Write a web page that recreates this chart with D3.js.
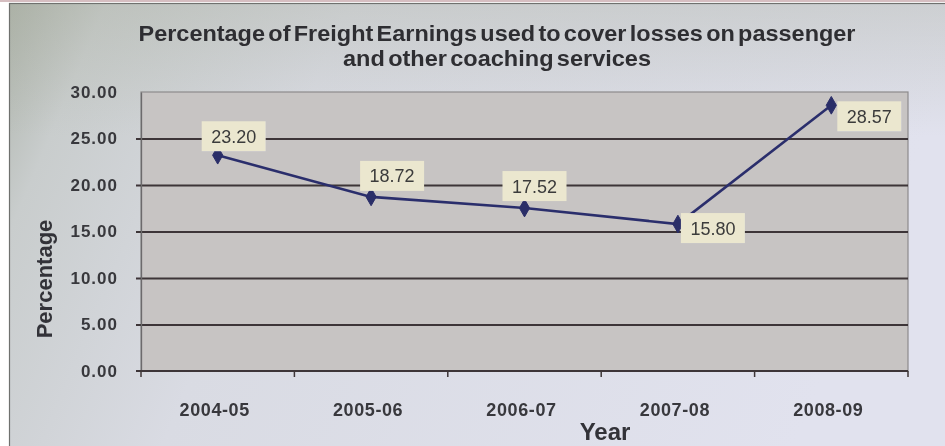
<!DOCTYPE html>
<html>
<head>
<meta charset="utf-8">
<script src="https://cdn.jsdelivr.net/npm/d3@7"></script>
<style>
  html, body { margin: 0; padding: 0; background: #ffffff; }
  svg { display: block; }
</style>
</head>
<body>
<svg id="chart" width="945" height="446"></svg>
<script>
// Share of freight earnings used to cover passenger / coaching losses
const years = ["2004-05", "2005-06", "2006-07", "2007-08", "2008-09"];
const percentages = [23.20, 18.72, 17.52, 15.80, 28.57];
const yTickValues = [0, 5, 10, 15, 20, 25, 30];
const titleLines = [
  "Percentage of Freight Earnings used to cover losses on passenger",
  "and other coaching services"
];
// where each value box sits relative to its point (dx, dy of box centre)
const labelOffsets = [[16, -19], [21, -21], [10, -22], [35, 4], [38, 11]];

const svg = d3.select("#chart");
const W = 945, H = 446;
const plot = { left: 141, right: 908, top: 92, bottom: 371 };

const defs = svg.append("defs");
const bg = defs.append("linearGradient").attr("id", "bgGrad")
  .attr("x1", "0%").attr("y1", "0%").attr("x2", "100%").attr("y2", "20%");
bg.append("stop").attr("offset", "0%").attr("stop-color", "#adb3aa");
bg.append("stop").attr("offset", "10%").attr("stop-color", "#c9cdcd");
bg.append("stop").attr("offset", "35%").attr("stop-color", "#d9dbe3");
bg.append("stop").attr("offset", "100%").attr("stop-color", "#e1e2ee");

const fade = defs.append("linearGradient").attr("id", "topFade")
  .attr("x1", "0%").attr("y1", "0%").attr("x2", "0%").attr("y2", "100%");
fade.append("stop").attr("offset", "0%").attr("stop-color", "#a9ae9f").attr("stop-opacity", 0.35);
fade.append("stop").attr("offset", "30%").attr("stop-color", "#a9ae9f").attr("stop-opacity", 0);

const soft = defs.append("filter").attr("id", "soft");
soft.append("feGaussianBlur").attr("stdDeviation", 0.45);

// chart area
svg.append("rect").attr("x", 0).attr("y", 0).attr("width", W).attr("height", H).attr("fill", "#ffffff");
svg.append("rect").attr("x", 9).attr("y", 3).attr("width", W - 9).attr("height", H - 3)
  .attr("fill", "url(#bgGrad)");
svg.append("rect").attr("x", 9).attr("y", 3).attr("width", W - 9).attr("height", H - 3)
  .attr("fill", "url(#topFade)");
svg.append("line").attr("x1", 0).attr("x2", W).attr("y1", 1).attr("y2", 1)
  .attr("stroke", "#c9a9ad").attr("stroke-width", 1.5);
svg.append("rect").attr("x", 9.5).attr("y", 3.5).attr("width", W).attr("height", H)
  .attr("fill", "none").attr("stroke", "#6f716e").attr("stroke-width", 1.2);

const g = svg.append("g").attr("filter", "url(#soft)");

const x = d3.scaleBand().domain(years).range([plot.left, plot.right]).padding(0);
const y = d3.scaleLinear().domain([0, 30]).range([plot.bottom, plot.top]);

// plot area
g.append("rect")
  .attr("x", plot.left).attr("y", plot.top)
  .attr("width", plot.right - plot.left).attr("height", plot.bottom - plot.top)
  .attr("fill", "#c7c4c3").attr("stroke", "#8d8b8c").attr("stroke-width", 1.2);

// horizontal gridlines
const gridAxis = d3.axisLeft(y).tickValues(yTickValues.filter(v => v > 0 && v < 30))
  .tickSize(-(plot.right - plot.left) - 5).tickFormat("");
const grid = g.append("g").attr("transform", `translate(${plot.left},0)`).call(gridAxis);
grid.select(".domain").remove();
grid.selectAll(".tick line")
  .attr("transform", "translate(-5,0)")
  .attr("stroke", "#3c3537").attr("stroke-width", 2);

// y axis labels
const yAxis = d3.axisLeft(y).tickValues(yTickValues).tickSize(0).tickPadding(23)
  .tickFormat(d3.format(".2f"));
const ya = g.append("g").attr("transform", `translate(${plot.left},0)`).call(yAxis);
ya.select(".domain").attr("stroke", "#6c6a6c").attr("stroke-width", 1.3);
ya.selectAll("text")
  .attr("fill", "#38383c")
  .style("font", "bold 17px 'Liberation Sans', Arial, sans-serif")
  .style("letter-spacing", "1px");

// x axis with ticks at category boundaries
const boundaries = years.map(d => x(d)).concat([plot.right]);
const xa = g.append("g");
xa.append("line").attr("x1", plot.left - 5).attr("x2", plot.right)
  .attr("y1", plot.bottom).attr("y2", plot.bottom)
  .attr("stroke", "#3c3537").attr("stroke-width", 2.2);
xa.selectAll("line.tk").data(boundaries).join("line").attr("class", "tk")
  .attr("x1", d => d).attr("x2", d => d)
  .attr("y1", plot.bottom).attr("y2", plot.bottom + 6)
  .attr("stroke", "#3c3537").attr("stroke-width", 1.5);
xa.selectAll("text").data(years).join("text")
  .attr("x", d => x(d) + x.bandwidth() / 2 - 3)
  .attr("y", 416)
  .attr("text-anchor", "middle")
  .attr("fill", "#38383c")
  .style("font", "bold 18px 'Liberation Sans', Arial, sans-serif")
  .style("letter-spacing", "0.6px")
  .text(d => d);

// axis titles
g.append("text").attr("x", 605).attr("y", 440).attr("text-anchor", "middle")
  .attr("fill", "#333338")
  .style("font", "bold 24px 'Liberation Sans', Arial, sans-serif")
  .text("Year");
g.append("text")
  .attr("transform", "translate(52,279) rotate(-90)")
  .attr("text-anchor", "middle")
  .attr("fill", "#333338")
  .style("font", "bold 22px 'Liberation Sans', Arial, sans-serif")
  .text("Percentage");

// chart title
const titleSpecs = [
  { y: 41, len: 717, cx: 497 },
  { y: 66, len: 308, cx: 497 }
];
g.selectAll("text.title").data(titleLines).join("text").attr("class", "title")
  .attr("x", (d, i) => titleSpecs[i].cx)
  .attr("y", (d, i) => titleSpecs[i].y)
  .attr("text-anchor", "middle")
  .attr("textLength", (d, i) => titleSpecs[i].len)
  .attr("lengthAdjust", "spacingAndGlyphs")
  .attr("fill", "#2f2f33")
  .style("font", "bold 22px 'Liberation Sans', Arial, sans-serif")
  .style("word-spacing", "-3px")
  .text(d => d);

// series line
const pts = years.map((d, i) => ({ year: d, value: percentages[i], off: labelOffsets[i] }));
const line = d3.line().x(d => x(d.year) + x.bandwidth() / 2).y(d => y(d.value));
g.append("path").datum(pts)
  .attr("d", line)
  .attr("fill", "none")
  .attr("stroke", "#2c2f6c")
  .attr("stroke-width", 2.6);

// markers
g.selectAll("path.mk").data(pts).join("path").attr("class", "mk")
  .attr("d", d3.symbol().type(d3.symbolDiamond).size(90))
  .attr("transform", d => `translate(${x(d.year) + x.bandwidth() / 2},${y(d.value)})`)
  .attr("fill", "#2a2d68")
  .attr("stroke", "#2a2d68").attr("stroke-width", 1).attr("stroke-linejoin", "round");

// value labels
const lab = g.selectAll("g.lab").data(pts).join("g").attr("class", "lab")
  .attr("transform", d => `translate(${x(d.year) + x.bandwidth() / 2 + d.off[0]},${y(d.value) + d.off[1]})`);
lab.append("rect")
  .attr("x", -32).attr("y", -15).attr("width", 64).attr("height", 30)
  .attr("fill", "#ebe7cf");
lab.append("text")
  .attr("text-anchor", "middle")
  .attr("dy", "0.36em")
  .attr("fill", "#3b3b3b")
  .style("font", "18px 'Liberation Sans', Arial, sans-serif")
  .text(d => d3.format(".2f")(d.value));
</script>
</body>
</html>
